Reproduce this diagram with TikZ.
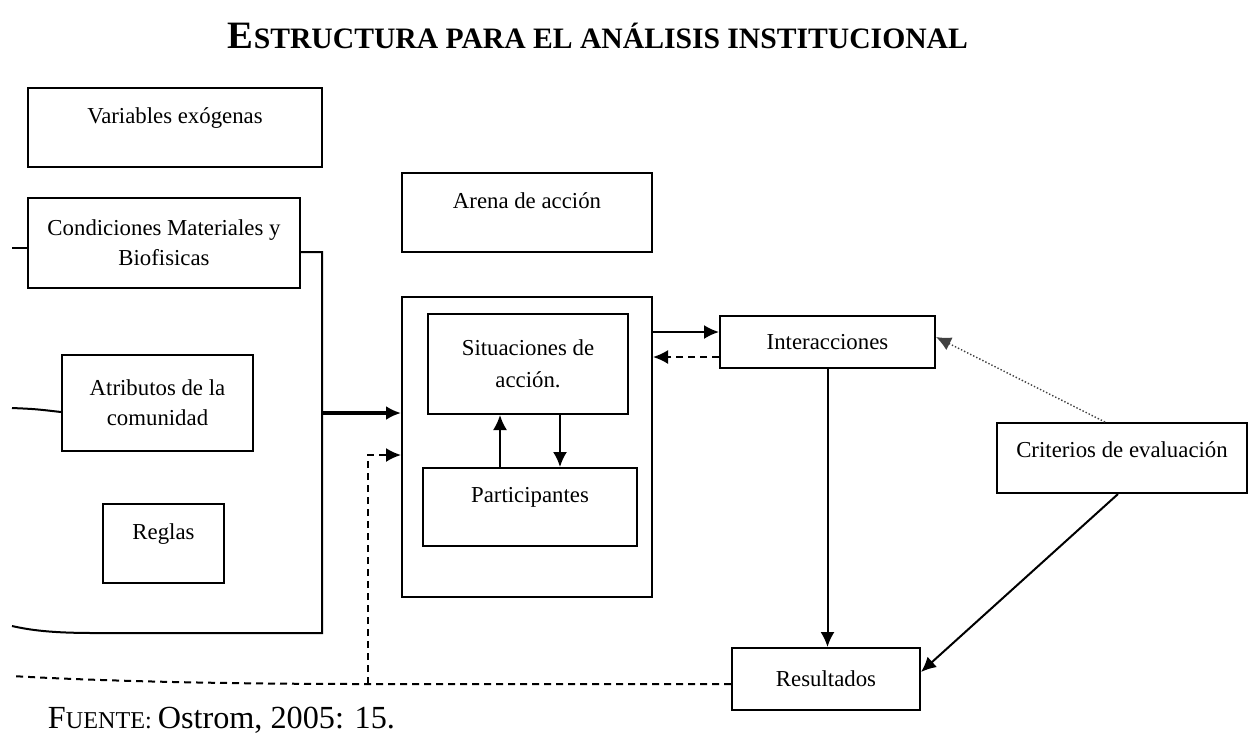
\documentclass[tikz,border=0pt]{standalone}
\usepackage{graphicx}
\usepackage{fontspec}
\setmainfont{Liberation Serif}
\usetikzlibrary{arrows.meta}

\begin{document}
\begin{tikzpicture}[x=0.5pt, y=-0.5pt,
every node/.style = {font=\fontsize{11.4}{15}\selectfont},
box/.style = {shape=rectangle, draw, line width=1pt, inner sep=0pt, align=center},
raised/.style = {text depth=12pt},
link/.style = {line width=1pt, -{Latex[length=7.5pt,width=7pt]}},
back/.style = {link, dash pattern=on 3.5pt off 2.5pt},
hint/.style = {link, line width=0.7pt, densely dotted, color=black!75},
frame/.style = {line width=1pt}
]
\useasboundingbox (0,0) rectangle (1248,736);

\node (title) at (598,36) {\resizebox{370pt}{!}{\bfseries{\fontsize{17}{20}\selectfont E}\fontsize{13}{20}\selectfont STRUCTURA PARA EL ANÁLISIS INSTITUCIONAL}};

\node [box, raised, minimum width=147pt, minimum height=39.5pt] (varex) at (175,127.5) {Variables exógenas};
\node [box, minimum width=136pt, minimum height=45pt] (cond) at (164,243) {Condiciones Materiales y\\Biofisicas};
\node [box, minimum width=95.5pt, minimum height=48pt] (atrib) at (157.5,403) {Atributos de la\\comunidad};
\node [box, raised, minimum width=60.5pt, minimum height=39.5pt] (reglas) at (163.5,543.5) {Reglas};

\node [box, raised, minimum width=125pt, minimum height=39.5pt] (arena) at (527,212.5) {Arena de acción};
\node [box, minimum width=125pt, minimum height=150pt] (arenabox) at (527,447) {};
\node [box, minimum width=100pt, minimum height=50pt] (situ) at (528,364) {Situaciones de\\[1pt]acción.};
\node [box, raised, minimum width=107pt, minimum height=39pt] (part) at (530,507) {Participantes};

\node [box, minimum width=107.5pt, minimum height=26pt] (inter) at (827.5,342) {Interacciones};
\node [box, text depth=8pt, minimum width=125pt, minimum height=35pt] (crit) at (1122,458) {Criterios de evaluación};
\node [box, minimum width=94pt, minimum height=31pt] (result) at (826,679) {Resultados};

\node (fuente) at (221.5,720) {\resizebox{173.5pt}{!}{{\fontsize{14}{16}\selectfont F}\fontsize{10.5}{16}\selectfont UENTE: \fontsize{14}{16}\selectfont Ostrom, 2005: 15.}};

% outer frame of the exogenous variables
\coordinate (brktop) at (322,252);
\coordinate (brkbot) at (322,633);
\coordinate (brkend) at (12,626);
\coordinate (brkout) at (322,413);
\coordinate (stubcond) at (12,248);
\coordinate (stubatrib) at (12,408);
\draw [frame] (cond.east |- brktop) -- (brktop) -- (brkbot) -- (95,633) .. controls (50,633) and (30,630) .. (brkend);
\draw [frame] (stubcond) -- (stubcond -| cond.west);
\draw [frame] (stubatrib) .. controls (35,409) .. (atrib.west |- 0,412);

% feedback line
\coordinate (fbjoin) at (368,684);
\coordinate (fbup) at (368,455);
\coordinate (fbend) at (12,676);
\draw [back, -] (result.west |- fbjoin) -- (fbjoin) .. controls (200,684) and (80,680) .. (fbend);
\draw [back] (fbjoin) -- (fbup) -- (fbup -| arenabox.west);

\draw [link, line width=1.6pt] (brkout) -- (brkout -| arenabox.west);
\draw [link] ([xshift=-15pt]part.north) -- ([xshift=-15pt]part.north |- situ.south);
\draw [link] ([xshift=15pt]part.north |- situ.south) -- ([xshift=15pt]part.north);
\draw [link] ([yshift=5pt]inter.west -| arenabox.east) -- ([yshift=5pt]inter.west);
\draw [back] ([yshift=-7.5pt]inter.west) -- ([yshift=-7.5pt]inter.west -| arenabox.east);
\draw [link] (inter.south) -- (inter.south |- result.north);
\draw [link] ([xshift=-2pt]crit.south) -- ([yshift=3.5pt]result.east);
\draw [hint] ([xshift=-8.5pt]crit.north) -- ([yshift=2.5pt]inter.east);

\end{tikzpicture}
\end{document}
